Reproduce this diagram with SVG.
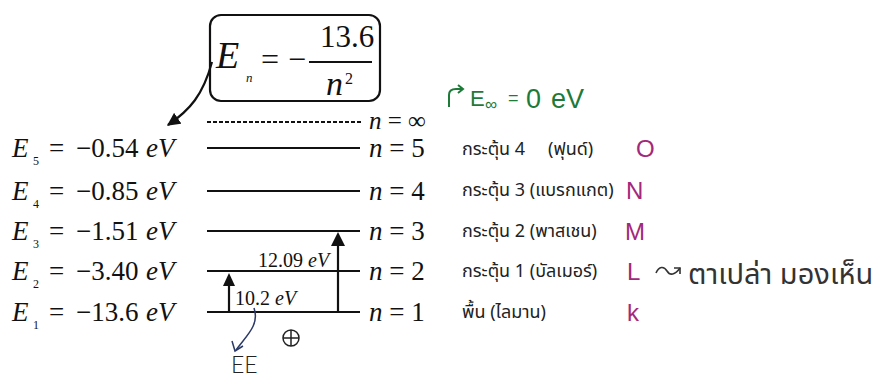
<svg xmlns="http://www.w3.org/2000/svg" width="881" height="383" viewBox="0 0 881 383">
<style>
.serif{font-family:"Liberation Serif","Times New Roman",serif;fill:#111}
.it{font-style:italic}
.lvl{stroke:#111;stroke-width:2.2;fill:none}
.thai{font-family:"Noto Sans Thai","Noto Sans","DejaVu Sans",sans-serif;font-size:18px;fill:#222}
.shell{font-family:"Liberation Sans",Arial,sans-serif;font-size:24px;fill:#a3287a}
.green{fill:#1d7a38;font-family:"Liberation Sans",Arial,sans-serif}
.hand{font-family:"Noto Sans Thai","Noto Sans","DejaVu Sans",sans-serif;fill:#333}
</style>
<defs>
<marker id="tri" viewBox="0 0 10 10" refX="9" refY="5" markerWidth="6" markerHeight="6" orient="auto" markerUnits="strokeWidth">
<path d="M0,0 L10,5 L0,10 z" fill="#111"/>
</marker>
</defs>
<rect width="881" height="383" fill="#fff"/>

<g id="formula">
<rect x="210" y="15" width="170" height="86" rx="11" fill="none" stroke="#111" stroke-width="2.2"/>
<text class="serif it" x="216" y="68" font-size="38">E</text>
<text class="serif it" x="246" y="82" font-size="13">n</text>
<text class="serif" x="261" y="70" font-size="32">=</text>
<text class="serif" x="288" y="70" font-size="32">−</text>
<line x1="309" y1="62" x2="372" y2="62" stroke="#111" stroke-width="2"/>
<text class="serif" x="320" y="47" font-size="31">13.6</text>
<text class="serif it" x="326" y="95" font-size="34">n</text>
<text class="serif" x="345" y="84" font-size="16">2</text>
</g>

<g id="level-inf">
<line x1="207" y1="122" x2="362" y2="122" stroke="#111" stroke-width="2" stroke-dasharray="4,2"/>
<text class="serif" x="369" y="129" font-size="25"><tspan class="it">n</tspan> = ∞</text>
</g>
<g id="einf-note">
<path d="M449,107 L449,95 Q449,89 456,89 L463,89" fill="none" stroke="#1d7a38" stroke-width="2"/>
<path d="M458,85 L463,89 L458,93" fill="none" stroke="#1d7a38" stroke-width="2"/>
<text class="green" x="470" y="106" font-size="22">E</text>
<text class="green" x="485" y="110" font-size="17">∞</text>
<text class="green" x="508" y="104" font-size="18">=</text>
<text class="green" x="526" y="108" font-size="27">0</text>
<text class="green" x="551" y="108" font-size="27">eV</text>
</g>

<g id="level-5">
<text class="serif" y="157" font-size="27"><tspan class="it" x="12">E</tspan><tspan x="33" dy="8" font-size="12">5</tspan><tspan x="49" dy="-8">=</tspan><tspan x="76">−0.54</tspan><tspan class="it" x="146">eV</tspan></text>
<line class="lvl" x1="207" y1="148" x2="360" y2="148"/>
<text class="serif" x="369" y="157" font-size="27"><tspan class="it">n</tspan> = 5</text>
<text class="thai" x="462" y="155">กระตุ้น 4<tspan x="548">(ฟุนด์)</tspan></text>
<text class="shell" x="636" y="157">O</text>
</g>
<g id="level-4">
<text class="serif" y="200" font-size="27"><tspan class="it" x="12">E</tspan><tspan x="33" dy="8" font-size="12">4</tspan><tspan x="49" dy="-8">=</tspan><tspan x="76">−0.85</tspan><tspan class="it" x="146">eV</tspan></text>
<line class="lvl" x1="207" y1="191" x2="360" y2="191"/>
<text class="serif" x="369" y="200" font-size="27"><tspan class="it">n</tspan> = 4</text>
<text class="thai" x="462" y="196">กระตุ้น 3 (แบรกแกต)</text>
<text class="shell" x="626" y="199">N</text>
</g>
<g id="level-3">
<text class="serif" y="240" font-size="27"><tspan class="it" x="12">E</tspan><tspan x="33" dy="8" font-size="12">3</tspan><tspan x="49" dy="-8">=</tspan><tspan x="76">−1.51</tspan><tspan class="it" x="146">eV</tspan></text>
<line class="lvl" x1="207" y1="231" x2="360" y2="231"/>
<text class="serif" x="369" y="240" font-size="27"><tspan class="it">n</tspan> = 3</text>
<text class="thai" x="462" y="237">กระตุ้น 2 (พาสเชน)</text>
<text class="shell" x="625" y="240">M</text>
</g>
<g id="level-2">
<text class="serif" y="280" font-size="27"><tspan class="it" x="12">E</tspan><tspan x="33" dy="8" font-size="12">2</tspan><tspan x="49" dy="-8">=</tspan><tspan x="76">−3.40</tspan><tspan class="it" x="146">eV</tspan></text>
<line class="lvl" x1="207" y1="271" x2="360" y2="271"/>
<text class="serif" x="369" y="280" font-size="27"><tspan class="it">n</tspan> = 2</text>
<text class="thai" x="462" y="277">กระตุ้น 1 (บัลเมอร์)</text>
<text class="shell" x="627" y="280">L</text>
</g>
<g id="level-1">
<text class="serif" y="321" font-size="27"><tspan class="it" x="12">E</tspan><tspan x="33" dy="8" font-size="12">1</tspan><tspan x="49" dy="-8">=</tspan><tspan x="76">−13.6</tspan><tspan class="it" x="146">eV</tspan></text>
<line class="lvl" x1="207" y1="312" x2="360" y2="312"/>
<text class="serif" x="369" y="321" font-size="27"><tspan class="it">n</tspan> = 1</text>
<text class="thai" x="462" y="318">พื้น (ไลมาน)</text>
<text class="shell" x="627" y="321">k</text>
</g>

<g id="visible-note">
<path d="M656,273 C659,266 664,266 667,271 C670,276 675,275 680,268" fill="none" stroke="#333" stroke-width="1.6"/>
<path d="M674,268 L680,268 L680,274" fill="none" stroke="#333" stroke-width="1.6"/>
<text class="hand" x="688" y="284" font-size="29">ตาเปล่า มองเห็น</text>
</g>

<g id="labels">
<text class="serif" x="258" y="267" font-size="20">12.09 <tspan class="it">eV</tspan></text>
<text class="serif" x="235" y="305" font-size="20">10.2 <tspan class="it">eV</tspan></text>
<text x="231" y="373" font-family="Lato,Liberation Sans,sans-serif" font-weight="300" font-size="23" fill="#222">EE</text>
<g id="nucleus" fill="none" stroke="#222" stroke-width="1.5">
<circle cx="291" cy="338" r="8"/>
<line x1="283" y1="338" x2="299" y2="338"/>
<line x1="291" y1="330" x2="291" y2="346"/>
</g>
</g>

<g id="connectors">
<path d="M212,62 C203,95 190,110 168,125" fill="none" stroke="#111" stroke-width="2.2" marker-end="url(#tri)"/>
<line x1="229" y1="312" x2="229" y2="284" stroke="#111" stroke-width="2.2"/>
<path d="M229,273 L235,286 L223,286 z" fill="#111"/>
<line x1="338" y1="312" x2="338" y2="244" stroke="#111" stroke-width="2.2"/>
<path d="M338,232 L345,246 L331,246 z" fill="#111"/>
<path d="M254,308 C260,325 246,336 236,350" fill="none" stroke="#2b3a66" stroke-width="1.5"/>
<path d="M232,341 L235,351 L243,346" fill="none" stroke="#2b3a66" stroke-width="1.5"/>
</g>
</svg>
